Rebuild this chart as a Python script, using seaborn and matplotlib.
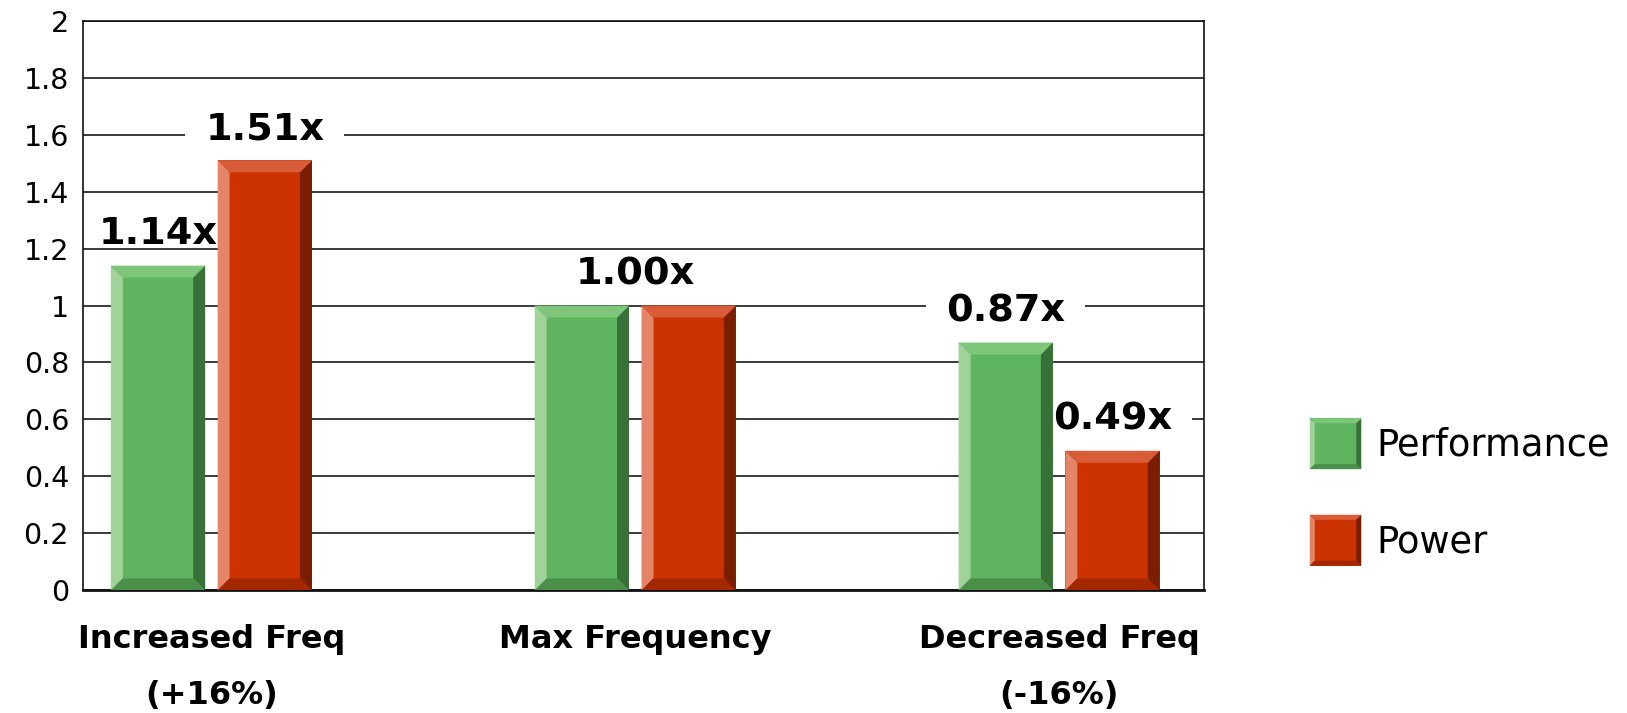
import numpy as np
import pandas as pd
import matplotlib
matplotlib.use("Agg")
import matplotlib.pyplot as plt
import seaborn as sns
from matplotlib.patches import Polygon, Rectangle
from matplotlib.transforms import IdentityTransform

# ---- data ----
categories = ["Increased Freq\n(+16%)", "Max Frequency", "Decreased Freq\n(-16%)"]
series = ["Performance", "Power"]
performance = [1.14, 1.00, 0.87]
power = [1.51, 1.00, 0.49]
y_ticks = [0, 0.2, 0.4, 0.6, 0.8, 1.0, 1.2, 1.4, 1.6, 1.8, 2.0]
y_tick_labels = ["0", "0.2", "0.4", "0.6", "0.8", "1", "1.2", "1.4", "1.6", "1.8", "2"]

df = pd.DataFrame({
    "category": categories * 2,
    "series": [series[0]] * len(categories) + [series[1]] * len(categories),
    "value": performance + power,
})

# face colour and bevel shades (left, top, right, bottom) per series
face = {"Performance": "#5FB45F", "Power": "#CC3300"}
bevel = {
    "Performance": ("#A0D29A", "#7DC67A", "#377137", "#4A904A"),
    "Power": ("#E4856A", "#D95C38", "#7B1E00", "#A32800"),
}

sns.set_theme(style="white")
plt.rcParams["font.family"] = ["DejaVu Sans"]
plt.rcParams["text.color"] = "black"
plt.rcParams["xtick.color"] = "black"
plt.rcParams["ytick.color"] = "black"

DPI = 100
fig = plt.figure(figsize=(16.27, 7.13), dpi=DPI)
ax = fig.add_axes([0.0510, 0.172, 0.6888, 0.799])

sns.barplot(data=df, x="category", y="value", hue="series",
            order=categories, hue_order=series, palette=face,
            width=0.504, gap=0.117, saturation=1, linewidth=0,
            edgecolor="none", ax=ax, zorder=2)

ax.set_xlim(-0.303, 2.341)
ax.set_ylim(0, 2)
ax.set_yticks(y_ticks)
ax.set_yticklabels(y_tick_labels)
ax.set_xlabel("")
ax.set_ylabel("")
ax.set_axisbelow(True)
ax.yaxis.grid(True, color="#2a2a2a", linewidth=1.3)
ax.xaxis.grid(False)
for side, sp in ax.spines.items():
    sp.set_visible(True)
    sp.set_color("#111111")
    sp.set_linewidth(1.2)
ax.spines["bottom"].set_linewidth(2.0)
ax.tick_params(axis="y", length=0, pad=10, labelsize=20.5, colors="black")
ax.tick_params(axis="x", length=0, pad=24, labelsize=23, colors="black")
for lbl in ax.get_xticklabels():
    lbl.set_fontweight("bold")
    lbl.set_linespacing(2.05)

sns.move_legend(ax, "center left", bbox_to_anchor=(0.805, 0.31),
                bbox_transform=fig.transFigure, frameon=False, title=None,
                fontsize=26.5, handlelength=1.4, handleheight=1.75,
                handletextpad=0.4, labelspacing=1.24, borderpad=0,
                borderaxespad=0)
leg = ax.get_legend()
for txt in leg.get_texts():
    txt.set_color("black")

# value labels: one per bar, or one per group when both bars agree
label_texts = []
perf_bars = ax.containers[0]
pow_bars = ax.containers[1]
for i in range(len(categories)):
    pb, wb = perf_bars[i], pow_bars[i]
    if np.isclose(performance[i], power[i]):
        xc = (pb.get_x() + wb.get_x() + wb.get_width()) / 2
        spots = [(xc, performance[i])]
    else:
        spots = [(pb.get_x() + pb.get_width() / 2, performance[i]),
                 (wb.get_x() + wb.get_width() / 2, power[i])]
    for xc, v in spots:
        t = ax.annotate(f"{v:.2f}x", xy=(xc, v), xytext=(0, 22.5),
                        textcoords="offset points", ha="center", va="center",
                        fontsize=27.5, fontweight="bold", color="black",
                        zorder=5, annotation_clip=False)
        label_texts.append(t)

fig.canvas.draw()
renderer = fig.canvas.get_renderer()


def add_bevel(x0, y0, x1, y1, b, shades, target):
    left, top, right, bottom = shades
    b = min(b, (x1 - x0) / 3, (y1 - y0) / 2)
    polys = [
        ([(x0, y0), (x0 + b, y0 + b), (x0 + b, y1 - b), (x0, y1)], left),
        ([(x1, y0), (x1 - b, y0 + b), (x1 - b, y1 - b), (x1, y1)], right),
        ([(x0, y1), (x0 + b, y1 - b), (x1 - b, y1 - b), (x1, y1)], top),
        ([(x0, y0), (x0 + b, y0 + b), (x1 - b, y0 + b), (x1, y0)], bottom),
    ]
    for pts, c in polys:
        p = Polygon(pts, closed=True, facecolor=c, edgecolor="none",
                    transform=IdentityTransform(), zorder=3)
        target(p)


# bevelled bar faces
for name, cont in zip(series, ax.containers):
    for bar in cont:
        e = bar.get_window_extent(renderer)
        add_bevel(e.x0, e.y0, e.x1, e.y1, 12, bevel[name], ax.add_artist)

# bevelled legend swatches
for name, patch in zip(series, leg.get_patches()):
    e = patch.get_window_extent(renderer)
    add_bevel(e.x0, e.y0, e.x1, e.y1, 5, bevel[name], fig.add_artist)

# white backing behind the value labels so gridlines break around them
lp_descent = renderer.get_text_width_height_descent(
    "lp", label_texts[0].get_fontproperties(), ismath=False)[2]
for t in label_texts:
    e = t.get_window_extent(renderer)
    r = Rectangle((e.x0 - 20, e.y0 + lp_descent + 1), e.width + 40,
                  e.y1 - (e.y0 + lp_descent + 1), facecolor="white",
                  edgecolor="none", transform=IdentityTransform(), zorder=1)
    ax.add_artist(r)

fig.savefig("out.png", dpi=DPI, facecolor="white")
